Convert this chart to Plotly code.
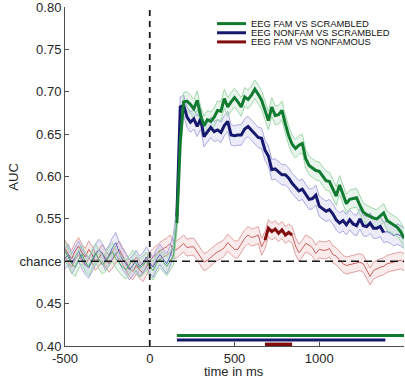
import numpy as np
import plotly.graph_objects as go

# ---------------- data ----------------
time_ms = list(range(-500, 1501, 20))

auc_fam_vs_scr = [
    0.512, 0.505, 0.497, 0.493, 0.502, 0.508, 0.499, 0.494, 0.503, 0.510,
    0.502, 0.496, 0.499, 0.506, 0.511, 0.503, 0.498, 0.493, 0.490, 0.496,
    0.502, 0.497, 0.492, 0.495, 0.500,
    0.494, 0.489, 0.497, 0.503, 0.499, 0.494, 0.500, 0.507,
    0.545, 0.640, 0.688,
    0.689, 0.685, 0.680, 0.690, 0.672, 0.660, 0.667, 0.665, 0.670, 0.678,
    0.677, 0.692, 0.682, 0.688, 0.693, 0.688, 0.682, 0.694, 0.691, 0.696,
    0.703, 0.697, 0.690, 0.678, 0.666, 0.682, 0.672, 0.673, 0.678, 0.662,
    0.648, 0.638, 0.633, 0.637, 0.639, 0.621, 0.613, 0.610, 0.607, 0.606,
    0.600, 0.595, 0.594, 0.585, 0.577, 0.590, 0.578, 0.568, 0.573, 0.574,
    0.575, 0.566, 0.558, 0.555, 0.553, 0.551, 0.550, 0.553, 0.557, 0.548,
    0.545, 0.543, 0.540, 0.535, 0.527,
]

auc_nonfam_vs_scr = [
    0.503, 0.508, 0.497, 0.505, 0.512, 0.503, 0.496, 0.492, 0.500, 0.508,
    0.514, 0.509, 0.501, 0.507, 0.516, 0.522, 0.510, 0.502, 0.497, 0.490,
    0.495, 0.501, 0.494, 0.498, 0.505,
    0.498, 0.493, 0.502, 0.508, 0.503, 0.497, 0.506, 0.520,
    0.553, 0.682, 0.684,
    0.670, 0.664, 0.668, 0.659, 0.668, 0.647, 0.653, 0.658, 0.653, 0.655,
    0.652, 0.660, 0.665, 0.649, 0.648, 0.649, 0.649, 0.656, 0.659, 0.655,
    0.650, 0.646, 0.645, 0.631, 0.624, 0.608, 0.609, 0.606, 0.602, 0.602,
    0.598, 0.592, 0.588, 0.583, 0.585, 0.579, 0.573, 0.574, 0.578, 0.565,
    0.562, 0.559, 0.561, 0.556, 0.549, 0.545, 0.548, 0.543, 0.549, 0.544,
    0.542, 0.550, 0.542, 0.541, 0.545, 0.539, 0.539, 0.541, 0.534, 0.535,
    0.533, 0.530, 0.532, 0.530, 0.527,
]

auc_fam_vs_nonfam = [
    0.515, 0.508, 0.503, 0.512, 0.518, 0.510, 0.505, 0.514, 0.508, 0.499,
    0.504, 0.510, 0.503, 0.497, 0.502, 0.508, 0.514, 0.506, 0.499, 0.492,
    0.488, 0.495, 0.490, 0.486, 0.493,
    0.501, 0.505, 0.509, 0.512, 0.515, 0.517, 0.521, 0.513, 0.514, 0.518,
    0.521, 0.516, 0.517, 0.517, 0.511, 0.506, 0.499, 0.501, 0.505, 0.508,
    0.511, 0.513, 0.516, 0.522, 0.518, 0.514, 0.514, 0.521, 0.527, 0.531,
    0.528, 0.529, 0.531, 0.517, 0.525, 0.539, 0.535, 0.538, 0.533, 0.537,
    0.531, 0.534, 0.531, 0.518, 0.510, 0.515, 0.521, 0.519, 0.516, 0.509,
    0.514, 0.513, 0.513, 0.515, 0.508, 0.506, 0.501, 0.497, 0.495, 0.496,
    0.497, 0.498, 0.499, 0.497, 0.490, 0.482, 0.489, 0.491, 0.493, 0.494,
    0.497, 0.498, 0.499, 0.500, 0.501, 0.499,
]

# standard error of each curve (half width of the shaded band)
sem_fam_vs_scr = 0.011
sem_nonfam_vs_scr = 0.012
sem_fam_vs_nonfam = 0.010

# significant windows (ms)
sig_fam_vs_scr = (160, 1500)
sig_nonfam_vs_scr = (160, 1390)
sig_fam_vs_nonfam = (680, 840)

series_names = ["EEG FAM VS SCRAMBLED", "EEG NONFAM VS SCRAMBLED", "EEG FAM VS NONFAMOUS"]

x_ticks = [-500, 0, 500, 1000]
y_ticks = [0.40, 0.45, 0.50, 0.55, 0.60, 0.65, 0.70, 0.75, 0.80]
y_tick_labels = ["0.40", "0.45", "chance", "0.55", "0.60", "0.65", "0.70", "0.75", "0.80"]

# ---------------- figure ----------------
FONT = "Liberation Sans, Arial, sans-serif"
t = np.array(time_ms)
fig = go.Figure()

styles = [
    dict(dark="rgb(16,122,48)", mid="rgb(80,170,100)", light="rgb(160,215,170)", fill="rgba(40,160,70,0.10)"),
    dict(dark="rgb(22,24,110)", mid="rgb(100,100,200)", light="rgb(170,170,225)", fill="rgba(70,70,200,0.10)"),
    dict(dark="rgb(128,12,14)", mid="rgb(200,95,95)", light="rgb(225,160,160)", fill="rgba(200,60,60,0.10)"),
]
all_y = [auc_fam_vs_scr, auc_nonfam_vs_scr, auc_fam_vs_nonfam]
all_sem = [sem_fam_vs_scr, sem_nonfam_vs_scr, sem_fam_vs_nonfam]
all_sig = [sig_fam_vs_scr, sig_nonfam_vs_scr, sig_fam_vs_nonfam]

# bands + thin lines (red first so green/blue sit on top)
for i in [2, 1, 0]:
    y = np.array(all_y[i])
    s = all_sem[i]
    st = styles[i]
    fig.add_trace(go.Scatter(x=t, y=y - s, mode="lines", line=dict(color=st["light"], width=1),
                             showlegend=False, hoverinfo="skip"))
    fig.add_trace(go.Scatter(x=t, y=y + s, mode="lines", line=dict(color=st["light"], width=1),
                             fill="tonexty", fillcolor=st["fill"], showlegend=False, hoverinfo="skip"))
    fig.add_trace(go.Scatter(x=t, y=y, mode="lines", line=dict(color=st["mid"], width=1),
                             showlegend=False, hoverinfo="skip"))

# thick significant segments
for i in [2, 1, 0]:
    a, b = all_sig[i]
    mask = (t >= a) & (t <= b)
    ys = [v if m else None for v, m in zip(all_y[i], mask)]
    fig.add_trace(go.Scatter(x=t, y=ys, mode="lines", line=dict(color=styles[i]["dark"], width=3),
                             showlegend=False, hoverinfo="skip", connectgaps=False))

# significance bars at the bottom
bar_levels = [0.4125, 0.4072, 0.4020]
bar_widths = [3, 3, 3.5]
for i in range(3):
    a, b = all_sig[i]
    fig.add_trace(go.Scatter(x=[a, b], y=[bar_levels[i]] * 2, mode="lines",
                             line=dict(color=styles[i]["dark"], width=bar_widths[i]),
                             showlegend=False, hoverinfo="skip", cliponaxis=False))

# reference lines
fig.add_shape(type="line", xref="x", yref="y", x0=-500, x1=1500, y0=0.5, y1=0.5,
              line=dict(color="#1a1a1a", width=1.5, dash="8px,5px"), layer="above")
fig.add_shape(type="line", xref="x", yref="y", x0=0, x1=0, y0=0.40, y1=0.80,
              line=dict(color="#1a1a1a", width=1.8, dash="6px,5px"), layer="above")

# legend (manual, compact)
leg_y = [0.951, 0.924, 0.897]
for i in range(3):
    fig.add_shape(type="line", xref="paper", yref="paper", x0=0.4485, x1=0.534,
                  y0=leg_y[i], y1=leg_y[i], line=dict(color=styles[i]["dark"], width=3))
    fig.add_annotation(xref="paper", yref="paper", x=0.5426, y=leg_y[i], text=series_names[i],
                       showarrow=False, xanchor="left", yanchor="middle",
                       font=dict(size=9.4, color="#111", family=FONT))

# axis titles as annotations (pixel-placed)
fig.add_annotation(xref="paper", yref="paper", x=(12 - 64.5) / 340, y=1 - (177 - 7) / 339,
                   text="AUC", textangle=-90, showarrow=False, xanchor="center", yanchor="middle",
                   font=dict(size=13, color="#262626", family=FONT))
fig.add_annotation(xref="paper", yref="paper", x=(234 - 64.5) / 340, y=1 - (371.5 - 7) / 339,
                   text="time in ms", showarrow=False, xanchor="center", yanchor="middle",
                   font=dict(size=13, color="#262626", family=FONT))

axis_common = dict(showline=True, linecolor="#4d4d4d", linewidth=1, ticks="inside", ticklen=4,
                   tickcolor="#4d4d4d", showgrid=False, zeroline=False, automargin=False,
                   ticklabeloverflow="allow",
                   tickfont=dict(size=13, color="#262626", family=FONT))

fig.update_layout(
    width=405, height=378, autosize=False,
    margin=dict(l=64.5, r=0.5, t=7, b=32, autoexpand=False),
    paper_bgcolor="white", plot_bgcolor="white",
    showlegend=False,
    xaxis=dict(range=[-500, 1500], tickvals=x_ticks, ticktext=[str(v) for v in x_ticks], **axis_common),
    yaxis=dict(range=[0.40, 0.80], tickvals=y_ticks, ticktext=y_tick_labels, **axis_common),
)

fig.write_html(
    "out.html",
    config={"responsive": False, "displayModeBar": False},
    default_width="405px",
    default_height="378px",
    post_script="document.body.style.margin='0';document.body.style.padding='0';",
)
